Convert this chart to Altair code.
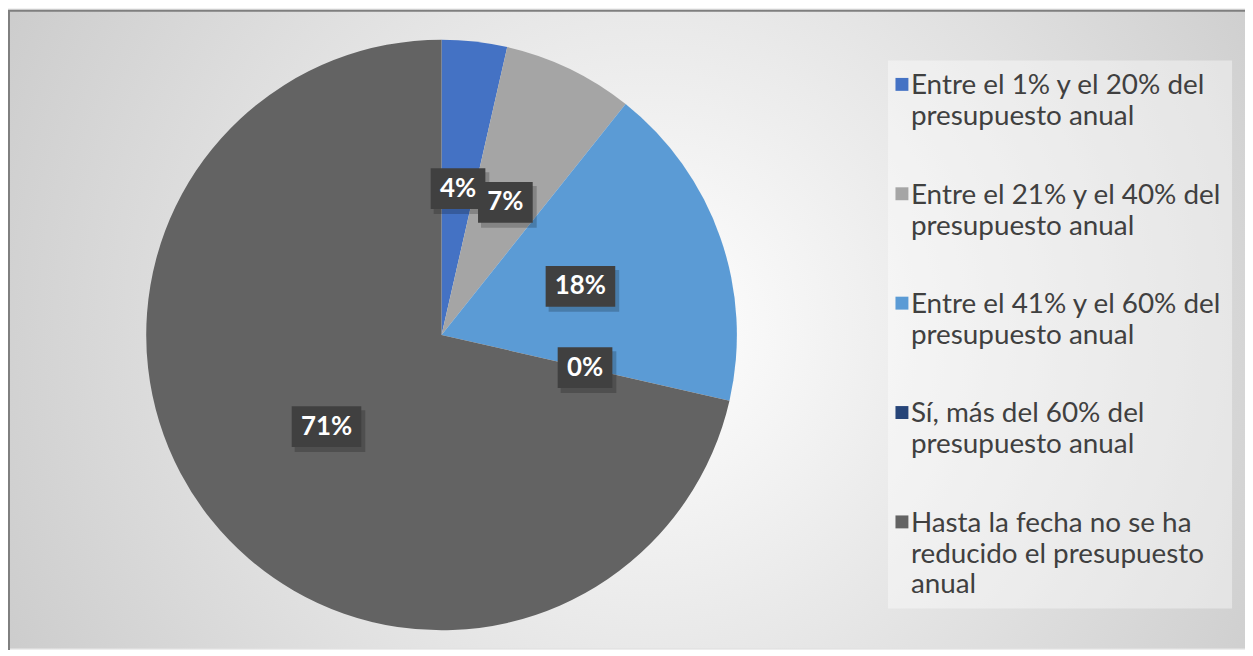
import altair as alt
import pandas as pd

categories = [
    "Entre el 1% y el 20% del presupuesto anual",
    "Entre el 21% y el 40% del presupuesto anual",
    "Entre el 41% y el 60% del presupuesto anual",
    "Sí, más del 60% del presupuesto anual",
    "Hasta la fecha no se ha reducido el presupuesto anual",
]
legend_lines = [
    "Entre el 1% y el 20% del\npresupuesto anual",
    "Entre el 21% y el 40% del\npresupuesto anual",
    "Entre el 41% y el 60% del\npresupuesto anual",
    "Sí, más del 60% del\npresupuesto anual",
    "Hasta la fecha no se ha\nreducido el presupuesto\nanual",
]
values = [3.57, 7.14, 17.86, 0.0, 71.43]
labels = ["4%", "7%", "18%", "0%", "71%"]
colors = ["#4472C4", "#A5A5A5", "#5B9BD5", "#264478", "#636363"]

W, H = 1244, 642
CX, CY, R = 436, 327, 297
LABEL_R = 148
FONT = "Lato"

df = pd.DataFrame({
    "cat": categories,
    "value": values,
    "label": labels,
    "legend": legend_lines,
    "idx": list(range(len(categories))),
})
one = pd.DataFrame({"a": [0]})

color_scale = alt.Scale(domain=categories, range=colors)

bg = alt.Chart(one).mark_rect(
    fill=alt.Gradient(
        gradient="radial",
        stops=[alt.GradientStop(color="#ffffff", offset=0),
               alt.GradientStop(color="#c2c2c2", offset=1)],
        x1=0.52, y1=0.5, r1=0, x2=0.52, y2=0.5, r2=0.7,
    )
).encode(x=alt.value(0), x2=alt.value(W), y=alt.value(0), y2=alt.value(H))

border = alt.Chart(one).mark_rect(
    fillOpacity=0, stroke="#7f7f7f", strokeWidth=2
).encode(x=alt.value(1), x2=alt.value(W + 20), y=alt.value(1), y2=alt.value(H + 20))

base = alt.Chart(df)

pie = base.mark_arc(outerRadius=R).encode(
    theta=alt.Theta("value:Q", stack=True),
    color=alt.Color("cat:N", scale=color_scale, legend=None),
    order=alt.Order("idx:Q"),
    x=alt.value(CX),
    y=alt.value(CY),
)

lab_base = base.transform_joinaggregate(
    total="sum(value)"
).transform_window(
    cum="sum(value)", sort=[alt.SortField("idx")], frame=[None, 0]
).transform_calculate(
    ang="(datum.cum - datum.value / 2) / datum.total * 2 * PI",
    px=f"{CX} + {LABEL_R} * sin(datum.ang)",
    py=f"{CY} - {LABEL_R} * cos(datum.ang)",
    bw="25 + 15 * length(datum.label)",
    bx1="datum.px - datum.bw / 2",
    bx2="datum.px + datum.bw / 2",
    by1="datum.py - 20.5",
    by2="datum.py + 20.5",
    sx1="datum.bx1 + 3",
    sx2="datum.bx2 + 4",
    sy1="datum.by1 + 4",
    sy2="datum.by2 + 5",
)

shadow = lab_base.mark_rect(color="#000000", opacity=0.2).encode(
    x=alt.X("sx1:Q", scale=None, axis=None),
    x2="sx2:Q",
    y=alt.Y("sy1:Q", scale=None, axis=None),
    y2="sy2:Q",
)
box = lab_base.mark_rect(color="#404040").encode(
    x=alt.X("bx1:Q", scale=None, axis=None),
    x2="bx2:Q",
    y=alt.Y("by1:Q", scale=None, axis=None),
    y2="by2:Q",
)
text = lab_base.mark_text(
    font=FONT, fontSize=26, fontWeight="bold", color="#ffffff",
    align="center", baseline="middle",
).encode(
    x=alt.X("px:Q", scale=None, axis=None),
    y=alt.Y("py:Q", scale=None, axis=None),
    text="label:N",
)

legend_bg = alt.Chart(one).mark_rect(color="#ffffff", opacity=0.4).encode(
    x=alt.value(885), x2=alt.value(1231), y=alt.value(51), y2=alt.value(602)
)

leg_base = base.transform_calculate(ly="75 + datum.idx * 110")
leg_sym = leg_base.mark_square(size=169, opacity=1).encode(
    x=alt.value(899),
    y=alt.Y("ly:Q", scale=None, axis=None),
    color=alt.Color("cat:N", scale=color_scale, legend=None),
)
leg_txt = leg_base.mark_text(
    font=FONT, fontSize=28, color="#404040", align="left",
    baseline="alphabetic", dy=10, lineBreak="\n", lineHeight=31,
).encode(
    x=alt.value(908),
    y=alt.Y("ly:Q", scale=None, axis=None),
    text="legend:N",
)

chart = alt.layer(
    bg, pie, shadow, box, text, legend_bg, leg_sym, leg_txt, border
).properties(
    width=W, height=H, autosize="none", padding=0
).configure_view(stroke=None).configure(background="#f2f2f2")

chart.save("out.html", embed_options={"renderer": "svg", "actions": False})
